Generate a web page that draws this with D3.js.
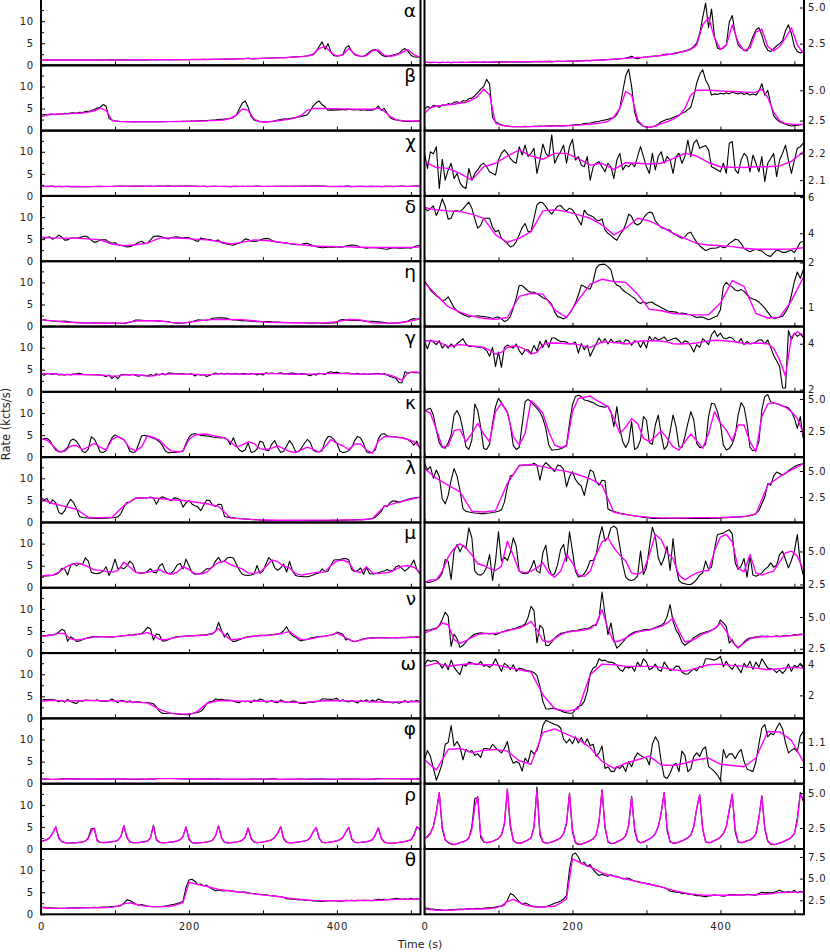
<!DOCTYPE html>
<html><head><meta charset="utf-8">
<script src="https://cdn.jsdelivr.net/npm/d3@7"></script>
<style>body{margin:0;background:#fff}svg text{font-family:"DejaVu Sans",sans-serif}</style>
</head><body>
<svg id="chart" width="830" height="952"></svg>
<script>
// ---------- data (time 0..512 s, evenly spaced samples) ----------
const labels = ["α","β","χ","δ","η","γ","κ","λ","μ","ν","ω","φ","ρ","θ"];

const alphaRate = [1.19,1.2,1.18,1.2,1.19,1.18,1.2,1.19,1.2,1.18,1.2,1.19,1.21,1.2,1.19,1.21,1.2,1.22,1.2,1.21,1.22,1.21,1.2,1.23,1.22,1.21,1.23,1.22,1.24,1.23,1.24,1.23,1.25,1.24,1.23,1.25,1.24,1.26,1.25,1.24,1.26,1.25,1.27,1.24,1.26,1.28,1.27,1.26,1.28,1.29,1.28,1.3,1.31,1.3,1.33,1.34,1.32,1.35,1.34,1.37,1.38,1.37,1.4,1.41,1.42,1.44,1.45,1.47,1.5,1.55,1.62,1.5,1.45,1.52,1.55,1.57,1.6,1.62,1.64,1.66,1.7,1.74,1.78,1.75,1.82,1.86,1.9,1.93,2.0,2.05,2.15,2.3,2.55,3.2,4.3,5.3,3.6,4.9,3.0,2.2,2.1,2.2,2.43,4.0,4.45,3.2,2.4,2.2,2.05,2.0,2.45,3.0,3.45,3.6,3.1,2.4,2.05,1.95,2.15,2.35,2.5,2.7,3.4,3.8,3.2,2.3,1.95,1.85,1.95];
const alphaFit = [1.2,1.2,1.2,1.2,1.2,1.2,1.2,1.2,1.21,1.21,1.22,1.22,1.23,1.23,1.24,1.24,1.25,1.25,1.25,1.26,1.26,1.26,1.27,1.27,1.28,1.29,1.3,1.31,1.33,1.35,1.37,1.39,1.42,1.45,1.48,1.52,1.54,1.56,1.6,1.63,1.68,1.73,1.8,1.88,1.97,2.1,2.4,3.8,4.3,2.9,2.1,2.4,3.8,2.6,2.0,2.2,3.3,3.5,2.3,2.0,2.3,2.9,3.6,2.4,1.85];

const betaRate = [3.47,3.65,3.55,3.75,3.7,3.6,3.8,3.75,3.9,3.85,4.0,4.05,3.95,4.15,4.1,4.3,4.35,4.55,4.8,5.1,5.3,5.9,5.5,2.75,2.4,2.25,2.15,2.08,2.05,2.02,2.0,2.01,1.99,2.0,2.02,2.0,2.01,2.03,2.02,2.04,2.03,2.05,2.04,2.06,2.05,2.07,2.08,2.06,2.09,2.1,2.12,2.15,2.18,2.2,2.25,2.28,2.3,2.35,2.4,2.44,2.5,2.55,2.6,2.68,2.75,3.0,3.5,4.9,6.2,6.75,5.3,3.2,2.4,2.2,2.05,1.97,1.95,2.0,2.05,2.2,2.4,2.5,2.6,2.65,2.75,2.85,2.95,3.1,3.2,3.4,3.6,4.5,5.6,6.3,6.7,5.85,5.4,4.6,4.7,4.65,4.75,4.7,4.8,4.7,4.85,4.75,4.7,4.8,4.65,4.75,4.6,4.7,4.6,4.9,5.55,4.6,5.0,3.9,2.9,2.6,2.4,2.3,2.2,2.1,2.05,2.08,2.1,2.15,2.2];
const betaFit = [3.1,3.55,3.7,3.75,3.8,3.85,3.95,4.0,4.2,4.5,5.1,4.6,2.3,2.1,2.03,2.0,2.0,2.0,2.0,2.01,2.02,2.03,2.04,2.05,2.07,2.09,2.12,2.16,2.2,2.26,2.33,2.42,2.8,3.5,4.9,4.6,2.6,2.0,1.95,2.05,2.25,2.4,2.6,2.9,3.5,4.6,5.0,5.0,5.0,4.98,4.95,4.92,4.9,4.88,4.85,4.83,4.85,5.1,4.4,3.2,2.5,2.25,2.2,2.17,2.17];

const chiRate = [2.2,2.144,2.206,2.198,2.225,2.069,2.178,2.1,2.138,2.163,2.106,2.125,2.09,2.075,2.069,2.144,2.1,2.125,2.138,2.156,2.163,2.15,2.131,2.125,2.119,2.175,2.2,2.213,2.2,2.181,2.169,2.163,2.225,2.194,2.231,2.188,2.2,2.219,2.125,2.175,2.235,2.2,2.188,2.269,2.163,2.188,2.206,2.231,2.163,2.225,2.253,2.175,2.188,2.156,2.15,2.188,2.1,2.15,2.163,2.169,2.15,2.131,2.163,2.15,2.106,2.175,2.2,2.138,2.156,2.15,2.163,2.15,2.188,2.225,2.188,2.15,2.125,2.2,2.138,2.188,2.206,2.163,2.188,2.175,2.125,2.188,2.2,2.163,2.188,2.25,2.188,2.238,2.25,2.219,2.225,2.229,2.213,2.15,2.144,2.138,2.131,2.163,2.125,2.238,2.244,2.138,2.125,2.175,2.2,2.188,2.131,2.194,2.163,2.131,2.188,2.094,2.163,2.181,2.2,2.113,2.175,2.2,2.231,2.175,2.125,2.175,2.219,2.225,2.238];
const chiFit = [2.169,2.147,2.144,2.125,2.1,2.15,2.163,2.19,2.213,2.19,2.178,2.2,2.2,2.18,2.156,2.163,2.14,2.165,2.163,2.16,2.163,2.18,2.2,2.19,2.165,2.15,2.148,2.147,2.15,2.15,2.153,2.17,2.206];

const deltaRate = [5.39,5.24,5.35,5.52,4.98,5.35,5.91,5.48,4.78,4.83,5.24,5.24,5.2,5.35,5.54,5.72,5.39,4.8,4.28,4.44,4.83,4.83,4.83,4.33,4.09,4.17,3.72,3.57,3.44,3.24,3.31,3.54,3.91,4.31,4.54,4.09,4.09,4.83,5.57,5.72,5.69,5.48,5.24,5.06,5.3,5.5,5.54,5.35,5.24,5.39,5.3,5.06,4.74,4.46,5.28,5.06,4.98,4.91,4.74,4.69,4.8,4.19,4.0,3.87,3.72,3.61,3.91,4.13,4.5,5.06,4.93,4.56,4.46,4.56,4.83,5.06,5.17,5.13,4.69,4.5,4.31,4.28,4.2,4.17,3.98,3.91,3.81,3.72,3.8,4.0,4.06,3.76,3.5,3.31,3.17,3.04,3.11,3.17,3.17,3.2,3.28,3.2,3.24,3.44,3.54,3.67,3.63,3.44,3.17,3.06,2.98,3.06,3.11,3.06,3.02,2.87,2.76,2.72,2.91,3.07,3.02,2.94,2.94,3.02,3.06,2.93,3.2,3.5,3.54];
const deltaFit = [5.43,5.3,5.24,5.2,5.06,4.83,3.91,3.5,3.72,4.09,5.24,5.3,5.2,5.02,4.83,4.46,3.91,4.28,4.83,4.69,4.37,4.0,3.72,3.44,3.35,3.31,3.26,3.17,3.11,3.11,3.11,3.13,3.2];

const etaRate = [1.59,1.5,1.39,1.32,1.26,1.21,1.16,1.17,1.24,1.12,1.0,0.93,0.88,0.85,0.82,0.79,0.81,0.81,0.82,0.81,0.8,0.79,0.78,0.76,0.78,0.79,0.75,0.69,0.72,0.8,0.99,1.21,1.49,1.49,1.43,1.37,1.34,1.34,1.31,1.27,1.22,1.19,1.15,1.07,0.9,0.8,0.78,0.75,0.79,0.87,0.97,1.1,1.28,1.5,1.47,1.43,1.41,1.58,1.87,1.95,1.96,1.96,1.91,1.84,1.58,1.5,1.47,1.39,1.34,1.3,1.25,1.21,1.13,1.09,1.13,1.09,1.12,1.12,1.07,1.04,1.0,0.97,0.93,0.91,0.91,0.9,0.87,0.88,0.87,0.85,0.84,0.81,0.78,0.79,0.79,0.76,0.73,0.76,0.79,0.82,0.95,1.47,1.56,1.5,1.46,1.39,1.37,1.4,1.36,1.28,1.22,1.19,1.17,1.12,1.06,0.99,0.9,0.81,0.76,0.77,0.79,0.81,0.9,1.02,1.28,1.58,1.79,1.65,1.84];
const etaFit = [1.56,1.28,1.02,0.9,0.81,0.76,0.74,0.78,1.25,1.32,1.3,0.95,0.78,1.17,1.52,1.63,1.58,1.56,1.3,0.96,0.93,0.87,0.85,0.84,0.84,1.1,1.6,1.47,0.87,0.77,0.79,1.15,1.67];

const gammaRate = [4.1,3.78,4.16,4.07,3.96,4.13,3.81,3.96,3.81,3.99,3.84,4.01,4.1,4.22,3.99,3.88,3.9,3.87,3.86,3.84,3.81,3.7,3.45,3.84,3.01,3.64,2.97,3.84,3.94,3.87,3.81,3.99,3.7,3.52,3.74,3.74,3.59,3.93,3.67,4.1,3.84,4.16,3.84,4.25,4.25,4.16,4.1,4.1,4.07,3.99,4.01,4.07,3.59,4.01,3.74,3.93,3.45,3.74,3.99,4.25,4.03,4.22,3.99,4.2,4.04,4.1,4.13,3.99,4.17,4.13,3.93,4.13,4.1,3.84,4.1,3.81,4.32,4.13,4.28,4.16,4.22,4.3,4.13,4.16,4.22,4.25,4.13,3.99,4.13,4.07,3.9,3.64,3.96,3.84,4.22,4.1,3.96,4.39,4.57,4.32,4.46,4.25,4.22,4.28,4.25,4.1,4.04,4.22,3.96,4.1,3.99,4.01,4.07,4.16,4.17,3.99,4.16,3.84,3.49,3.26,3.01,2.07,2.07,4.58,4.17,4.46,4.32,4.42,4.28];
const gammaFit = [4.13,4.12,4.1,4.0,3.88,3.92,3.96,3.93,3.9,3.88,3.84,3.72,3.55,3.62,3.84,3.9,3.87,3.75,3.55,3.62,3.96,4.02,4.03,4.02,4.0,4.0,3.96,3.88,3.84,3.95,4.08,4.07,4.05,4.03,3.99,4.02,4.1,4.12,4.13,4.13,4.11,4.08,4.0,3.99,4.0,4.01,4.03,4.08,4.12,4.15,4.14,4.12,4.1,4.06,4.0,4.01,4.03,4.02,4.0,3.8,3.3,2.58,4.3,4.52,4.38];

const kappaRate = [4.01,4.19,4.27,3.75,2.58,1.59,1.22,1.17,1.59,2.19,3.75,4.09,3.62,2.58,1.28,1.07,1.8,4.61,4.09,2.79,1.15,1.07,1.48,3.1,4.4,5.05,4.71,4.35,4.01,2.97,1.38,1.07,1.22,2.97,4.79,4.97,4.77,4.51,4.27,3.98,3.49,2.71,1.41,1.02,1.04,1.07,1.12,1.22,1.43,3.1,4.53,5.18,5.29,5.18,4.92,4.87,4.79,4.71,4.56,4.45,4.4,4.35,4.45,4.01,2.84,4.4,2.71,1.67,1.22,1.67,3.23,1.07,1.22,1.8,3.62,3.36,1.59,1.48,2.97,3.75,2.19,1.07,1.33,2.45,3.75,2.84,1.28,1.22,2.06,3.1,4.01,3.36,1.54,1.22,1.22,1.48,3.62,4.66,4.61,4.01,3.1,1.41,1.02,1.15,1.48,2.19,3.75,4.71,4.35,3.1,1.22,0.96,1.07,1.67,4.14,5.18,5.34,4.77,4.66,4.64,4.56,4.45,4.4,4.3,4.01,3.49,2.71,3.62,1.93];
const kappaFit = [4.14,3.88,2.63,1.28,1.33,2.53,2.63,1.67,2.32,3.1,2.27,1.67,4.01,4.66,3.93,2.06,1.41,2.32,4.87,4.45,3.88,2.45,1.41,1.22,1.33,4.01,5.03,5.13,5.23,4.92,4.66,4.4,3.49,2.32,2.79,3.46,3.1,1.93,1.67,2.06,2.53,1.93,1.28,1.02,1.67,2.27,1.74,1.15,2.32,4.01,3.1,2.58,1.74,2.97,2.97,1.67,0.89,3.62,4.61,4.71,4.53,4.35,4.01,3.49,2.32];

const lambdaRate = [5.75,5.1,5.42,4.29,5.1,4.45,2.34,1.85,2.66,4.12,5.23,4.51,3.15,1.36,1.14,1.07,1.01,0.97,0.94,0.91,0.91,0.94,0.97,1.01,1.07,1.14,1.27,2.01,3.47,4.51,4.64,5.1,5.55,5.58,5.58,5.55,5.58,5.75,5.55,4.12,5.42,5.81,5.55,5.26,4.94,5.58,5.49,5.16,3.47,4.45,4.94,4.19,3.8,3.54,2.66,3.96,5.1,4.94,3.96,3.64,4.12,4.06,1.36,1.2,1.1,1.04,0.94,0.88,0.84,0.78,0.75,0.68,0.65,0.62,0.55,0.52,0.49,0.45,0.45,0.45,0.44,0.45,0.45,0.44,0.45,0.45,0.44,0.45,0.45,0.44,0.45,0.45,0.45,0.44,0.45,0.46,0.45,0.46,0.47,0.47,0.5,0.51,0.52,0.53,0.55,0.56,0.58,0.6,0.63,0.65,0.7,0.78,0.9,1.2,1.85,2.5,3.8,3.64,4.51,4.9,4.77,4.61,4.77,5.03,5.23,5.42,5.55,5.65,5.68];
const lambdaFit = [5.26,4.29,3.64,2.99,1.14,1.07,1.2,3.8,5.49,5.62,5.42,5.16,4.97,4.64,4.25,3.64,1.04,0.81,0.65,0.55,0.5,0.49,0.5,0.52,0.52,0.52,0.58,0.62,0.88,3.64,4.45,5.1,5.68];

const muRate = [2.7,2.65,2.68,2.75,2.85,3.01,3.38,4.39,4.27,2.88,5.03,5.53,4.97,5.48,5.23,6.79,6.04,3.51,3.26,3.21,3.38,3.81,4.77,2.8,4.27,6.49,4.27,4.57,4.32,4.9,6.04,5.4,3.51,3.36,3.31,3.36,3.76,4.32,3.51,3.38,4.9,5.48,3.76,3.21,3.31,4.02,5.15,5.53,4.27,6.49,5.03,3.51,3.06,3.11,3.31,3.71,4.32,4.32,4.77,6.04,6.89,5.78,6.04,6.79,6.92,6.74,5.4,4.02,3.06,2.85,2.8,2.9,3.13,5.03,3.26,3.76,5.33,6.84,6.16,4.52,3.96,4.52,5.4,3.56,5.98,3.81,2.8,2.6,2.55,2.5,2.5,2.65,2.88,3.21,3.38,4.27,3.64,3.81,5.15,6.29,6.34,6.39,6.54,6.64,6.34,4.14,3.64,3.89,4.47,3.06,4.65,3.21,3.13,3.21,3.38,3.64,3.81,4.14,3.81,3.96,4.77,5.03,4.39,3.76,4.32,5.03,6.29,4.14,3.21];
const muFit = [2.63,2.85,2.85,3.51,4.57,5.23,5.58,5.28,4.72,4.07,3.94,3.71,3.56,3.89,5.78,4.72,3.51,3.38,3.51,3.76,4.14,3.38,3.06,3.51,4.77,4.14,3.21,3.11,3.51,4.77,5.73,6.04,5.28,4.72,4.27,3.38,3.26,3.51,4.77,6.29,5.91,4.9,4.47,3.21,2.85,3.13,3.38,3.51,3.56,5.03,6.09,6.29,5.73,3.76,3.46,4.77,3.38,3.21,3.38,3.51,4.22,4.9,5.03,4.65,3.64];

const nuRate = [3.92,3.97,4.0,4.08,4.13,4.34,4.79,5.39,5.05,2.68,3.66,3.29,2.61,2.76,3.03,3.29,3.5,3.66,3.71,3.76,3.71,3.71,3.66,3.71,3.61,3.71,3.82,3.87,3.97,4.0,4.08,4.13,4.24,4.29,4.45,4.97,5.84,5.5,2.95,4.34,4.13,2.76,2.76,3.03,3.34,3.55,3.71,3.76,3.82,3.87,3.92,3.92,3.97,4.03,4.08,4.08,4.18,4.34,4.34,4.92,6.97,5.18,3.61,4.53,3.21,2.55,2.76,3.03,3.29,3.55,3.71,3.82,3.87,3.92,4.0,4.03,4.0,4.08,4.18,4.26,4.34,4.53,5.05,5.97,4.66,3.97,3.61,3.03,2.76,2.95,3.08,3.39,3.5,3.66,3.74,3.82,3.87,3.97,4.08,4.24,4.76,4.53,4.26,2.95,3.21,2.76,2.55,2.76,3.03,3.24,3.34,3.39,3.45,3.47,3.5,3.47,3.5,3.45,3.47,3.53,3.45,3.5,3.55,3.5,3.55,3.61,3.58,3.66,3.61];
const nuFit = [3.74,3.92,4.08,4.53,4.39,3.21,2.95,3.13,3.39,3.61,3.68,3.71,3.71,3.79,3.92,4.03,4.13,4.34,4.66,4.0,3.13,3.03,3.29,3.61,3.79,3.87,3.92,3.97,4.08,4.45,5.58,4.08,3.03,3.13,3.34,3.61,3.82,3.92,3.97,4.13,4.26,4.53,4.92,3.87,3.03,3.13,3.34,3.66,3.82,4.08,4.53,3.87,3.03,2.61,2.95,3.29,3.39,3.45,3.45,3.47,3.47,3.5,3.53,3.58,3.61];

const omegaRate = [4.0,4.3,4.22,4.26,4.26,4.09,3.78,4.09,3.67,4.3,3.83,3.57,3.35,4.0,3.91,4.17,4.11,4.04,4.0,4.22,3.91,3.96,3.83,4.0,4.39,3.96,3.57,4.09,3.96,3.67,4.0,3.57,3.78,3.74,3.65,3.61,3.57,3.48,3.3,2.59,1.61,1.13,1.11,1.15,1.17,1.07,1.0,0.91,0.87,0.83,0.83,1.09,1.28,1.35,1.61,2.26,3.39,3.78,3.89,4.39,4.26,4.3,4.17,4.17,4.11,3.96,3.67,3.57,3.89,3.78,3.89,3.57,4.17,3.87,4.39,4.17,3.67,3.78,4.04,3.67,3.57,4.17,3.89,3.61,3.7,3.91,3.89,3.52,3.39,3.39,3.57,3.74,3.61,3.89,3.83,4.39,4.39,4.35,4.3,4.39,4.54,3.87,4.22,3.89,3.7,4.04,3.78,3.48,4.09,3.83,4.22,3.7,4.17,3.83,4.39,4.09,3.78,3.74,3.67,3.48,3.67,3.43,3.65,4.04,3.57,3.96,3.83,4.09,3.78];
const omegaFit = [3.89,4.1,3.9,4.0,4.08,4.0,4.0,3.83,3.67,3.52,2.04,1.13,0.96,1.13,3.35,4.04,4.0,3.89,3.89,3.89,3.83,3.67,3.57,3.78,4.0,4.04,3.96,3.89,3.78,3.67,3.74,3.83,3.78];

const phiRate = [1.029,1.067,1.043,0.994,0.946,0.978,1.015,1.092,1.099,1.168,1.085,1.103,1.081,1.029,1.071,1.061,1.067,1.047,1.053,1.039,1.075,1.075,1.071,1.092,1.078,1.067,1.057,1.075,1.103,1.043,1.015,1.022,1.015,0.983,1.036,1.019,1.067,1.053,1.067,1.108,1.168,1.189,1.183,1.178,1.172,1.169,1.158,1.113,1.097,1.113,1.094,1.122,1.097,1.119,1.092,1.114,1.086,1.092,1.043,1.057,1.085,0.994,1.001,0.983,0.981,1.001,0.994,1.006,0.981,1.022,1.001,1.036,1.057,1.047,1.039,1.036,1.008,1.092,1.122,1.103,1.022,0.96,0.953,0.974,1.006,1.015,0.981,1.064,1.047,0.981,0.992,1.043,1.057,1.043,1.071,1.081,1.001,0.992,0.981,0.967,0.946,1.071,1.036,1.053,1.053,1.033,1.057,1.071,1.022,0.992,0.986,0.981,1.022,1.092,1.158,1.172,1.122,1.136,1.131,1.158,1.178,1.154,1.099,1.057,1.067,1.075,1.061,1.126,1.144];
const phiFit = [1.029,0.988,1.071,1.075,1.058,1.067,1.071,1.064,1.025,1.011,1.14,1.154,1.133,1.113,1.078,1.022,0.994,1.015,1.029,1.044,1.008,1.006,1.015,1.029,1.036,1.011,1.006,1.001,1.036,1.144,1.142,1.108,1.022];

const rhoRate = [1.79,1.9,2.15,2.62,3.7,5.05,2.4,1.65,1.45,1.35,1.31,1.38,1.45,1.5,1.6,1.8,2.6,4.6,4.7,1.8,1.5,1.45,1.5,1.55,1.65,1.75,2.0,2.8,5.24,2.6,1.6,1.45,1.4,1.45,1.55,1.65,1.8,2.6,5.43,2.0,1.5,1.42,1.45,1.5,1.58,1.67,1.8,2.1,2.8,5.0,2.2,1.45,1.3,1.35,1.42,1.5,1.6,1.72,2.0,3.0,5.24,2.5,1.5,1.38,1.4,1.5,1.6,1.72,1.95,2.7,4.76,2.3,1.55,1.45,1.5,1.6,1.72,1.85,2.1,2.6,3.6,5.05,2.3,1.5,1.42,1.42,1.5,1.58,1.68,1.8,2.0,2.6,3.9,4.88,2.4,1.5,1.45,1.5,1.6,1.7,1.85,2.1,2.6,3.8,4.93,2.2,1.5,1.45,1.5,1.58,1.65,1.8,2.1,3.2,4.81,2.4,1.55,1.35,1.3,1.35,1.42,1.5,1.6,1.7,1.85,2.1,3.2,5.05,4.4];
const rhoFit = [1.75,1.85,2.1,2.6,3.6,5.0,2.6,1.7,1.48,1.38,1.33,1.38,1.45,1.52,1.6,1.78,2.4,4.0,4.76,2.0,1.55,1.45,1.48,1.55,1.63,1.75,1.98,2.8,5.29,2.8,1.65,1.45,1.4,1.45,1.55,1.65,1.8,2.5,5.2,2.2,1.52,1.42,1.45,1.5,1.58,1.67,1.8,2.1,2.9,4.95,2.4,1.5,1.35,1.35,1.42,1.5,1.6,1.72,2.0,3.0,5.2,2.6,1.55,1.4,1.42,1.5,1.6,1.72,1.95,2.7,4.7,2.5,1.6,1.45,1.5,1.6,1.72,1.85,2.1,2.6,3.6,5.0,2.5,1.55,1.42,1.42,1.5,1.58,1.68,1.8,2.0,2.6,3.9,4.85,2.5,1.55,1.45,1.5,1.6,1.7,1.85,2.1,2.6,3.8,4.9,2.4,1.55,1.45,1.5,1.58,1.65,1.8,2.1,3.2,4.8,2.5,1.6,1.38,1.32,1.35,1.42,1.5,1.6,1.7,1.85,2.1,3.0,4.9,4.6];

const thetaRate = [1.62,1.58,1.5,1.5,1.42,1.42,1.38,1.35,1.38,1.42,1.42,1.46,1.5,1.46,1.5,1.54,1.5,1.54,1.58,1.54,1.58,1.62,1.62,1.65,1.73,1.81,1.81,1.96,2.5,3.27,3.12,2.73,2.35,2.04,2.19,2.04,1.85,1.77,1.73,1.73,1.73,1.77,1.85,2.0,2.15,2.27,2.42,2.65,3.04,6.04,7.77,7.96,7.5,6.73,6.88,6.42,6.62,6.04,5.65,5.35,5.5,5.35,5.27,5.46,5.27,5.27,5.12,4.96,5.04,5.04,4.88,4.73,4.69,4.58,4.5,4.42,4.42,4.27,4.19,4.12,4.04,3.96,3.81,3.54,3.5,3.42,3.42,3.27,3.35,3.19,3.19,3.12,3.04,3.04,2.96,2.92,3.0,3.04,3.12,3.08,3.04,2.96,3.04,3.15,3.12,3.15,3.08,3.15,3.12,3.19,3.15,3.12,3.08,3.27,3.42,3.35,3.38,3.35,3.42,3.5,3.65,3.5,3.42,3.5,3.42,3.65,3.35,3.54,3.42];
const thetaFit = [1.5,1.42,1.35,1.35,1.35,1.38,1.42,1.46,1.5,1.5,1.5,1.55,1.62,1.85,2.35,2.6,2.27,1.96,1.81,1.73,1.73,1.77,1.81,2.2,2.65,7.27,6.96,6.6,6.35,6.0,5.65,5.45,5.27,5.12,4.96,4.8,4.62,4.5,4.35,4.2,4.04,3.85,3.65,3.5,3.35,3.23,3.15,3.1,3.08,3.08,3.08,3.08,3.08,3.1,3.12,3.12,3.12,3.2,3.23,3.3,3.38,3.4,3.42,3.44,3.46];

// axis settings
const timeEnd = 512;
const xDomain = [0, 513];
const xTickValues = [0, 100, 200, 300, 400, 500];
const xLabelValues = [0, 200, 400];
const leftDomain = [0, 14.8];
const leftTickValues = [0, 2.5, 5, 7.5, 10, 12.5];
const leftLabelValues = [0, 5, 10];
const rightDomains = [[1.0,5.52],[1.67,7.06],[2.041,2.285],[2.45,6.07],[0.58,2.03],[1.9,4.75],[0.47,5.55],[0.06,6.33],[2.25,7.2],[2.16,7.3],[0.5,4.76],[0.932,1.197],[1.0,5.67],[0.88,8.42]];
const rightTickValues = [[2.5,5],[2.5,5],[2.1,2.2],[4,6],[1,2],[2,4],[2.5,5],[2.5,5],[2.5,5],[2.5,5],[2,4],[1.0,1.1],[2.5,5],[2.5,5,7.5]];
const rightTickFormats = [".1f",".1f",".1f","d","d","d",".1f",".1f",".1f",".1f","d",".1f",".1f",".1f"];

const rateSeries = [alphaRate,betaRate,chiRate,deltaRate,etaRate,gammaRate,kappaRate,lambdaRate,muRate,nuRate,omegaRate,phiRate,rhoRate,thetaRate];
const fitSeries = [alphaFit,betaFit,chiFit,deltaFit,etaFit,gammaFit,kappaFit,lambdaFit,muFit,nuFit,omegaFit,phiFit,rhoFit,thetaFit];

// ---------- layout ----------
const svg = d3.select("#chart");
const plotBottom = 914.3;
const rowH = plotBottom / labels.length;
const colRanges = [[41, 420.5], [424.5, 804]];
const textColor = "#222";

function styleAxis(sel) {
  sel.attr("font-family", null).attr("font-size", null);
  sel.selectAll("text").attr("font-size", 10).attr("fill", textColor).style("letter-spacing", "0.8px");
  sel.selectAll(".tick line").attr("stroke", "#000");
}

labels.forEach((lab, r) => {
  const y0 = r * rowH, y1 = y0 + rowH;
  colRanges.forEach((range, c) => {
    const xs = d3.scaleLinear().domain(xDomain).range(range);
    const ys = d3.scaleLinear().domain(c === 0 ? leftDomain : rightDomains[r]).range([y1, y0]);
    const g = svg.append("g");
    const cid = `clip-${r}-${c}`;
    svg.append("clipPath").attr("id", cid).append("rect")
      .attr("x", range[0]).attr("y", y0).attr("width", range[1] - range[0]).attr("height", rowH);
    const mk = arr => d3.line()
      .x((d, i) => xs(i * timeEnd / (arr.length - 1)))
      .y(d => ys(d))(arr);
    const lines = g.append("g").attr("clip-path", `url(#${cid})`);
    lines.append("path").attr("d", mk(rateSeries[r])).attr("fill", "none")
      .attr("stroke", "#000").attr("stroke-width", 1.1).attr("stroke-linejoin", "round");
    lines.append("path").attr("d", mk(fitSeries[r])).attr("fill", "none")
      .attr("stroke", "#ff00ff").attr("stroke-width", 1.4).attr("stroke-linejoin", "round");

    const xa = d3.axisBottom(xs).tickValues(xTickValues).tickSizeInner(-4).tickSizeOuter(0).tickPadding(9)
      .tickFormat(d => (r === labels.length - 1 && xLabelValues.includes(d)) ? d : "");
    const gx = g.append("g").attr("transform", `translate(0,${y1})`).call(xa);
    gx.select(".domain").remove();
    styleAxis(gx);

    if (c === 0) {
      const ya = d3.axisLeft(ys).tickValues(leftTickValues).tickSizeInner(-4).tickSizeOuter(0).tickPadding(7)
        .tickFormat(d => leftLabelValues.includes(d) ? d : "");
      const gy = g.append("g").attr("transform", `translate(${range[0]},0)`).call(ya);
      gy.select(".domain").remove();
      gy.selectAll(".tick line").attr("x2", d => leftLabelValues.includes(d) ? 4 : 3);
      styleAxis(gy);
    } else {
      const ya = d3.axisRight(ys).tickValues(rightTickValues[r]).tickSizeInner(-4).tickSizeOuter(0).tickPadding(4)
        .tickFormat(d3.format(rightTickFormats[r]));
      const gy = g.append("g").attr("transform", `translate(${range[1]},0)`).call(ya);
      gy.select(".domain").remove();
      styleAxis(gy);
    }

    // frame (top edge of first row sits just outside the picture)
    const fy = r === 0 ? -2 : y0;
    g.append("rect").attr("x", range[0]).attr("y", fy).attr("width", range[1] - range[0]).attr("height", y1 - fy)
      .attr("fill", "none").attr("stroke", "#000").attr("stroke-width", 2);
  });
  svg.append("text").attr("x", 416).attr("y", y0 + 17).attr("text-anchor", "end")
    .attr("font-size", 18.5).attr("fill", "#000").text(lab);
});

svg.append("text").attr("transform", "translate(9.5,424) rotate(-90)").attr("text-anchor", "middle")
  .attr("font-size", 11.5).attr("fill", textColor).text("Rate (kcts/s)");
svg.append("text").attr("x", 420).attr("y", 948).attr("text-anchor", "middle")
  .attr("font-size", 11).attr("fill", textColor).text("Time (s)");
</script>
</body></html>
